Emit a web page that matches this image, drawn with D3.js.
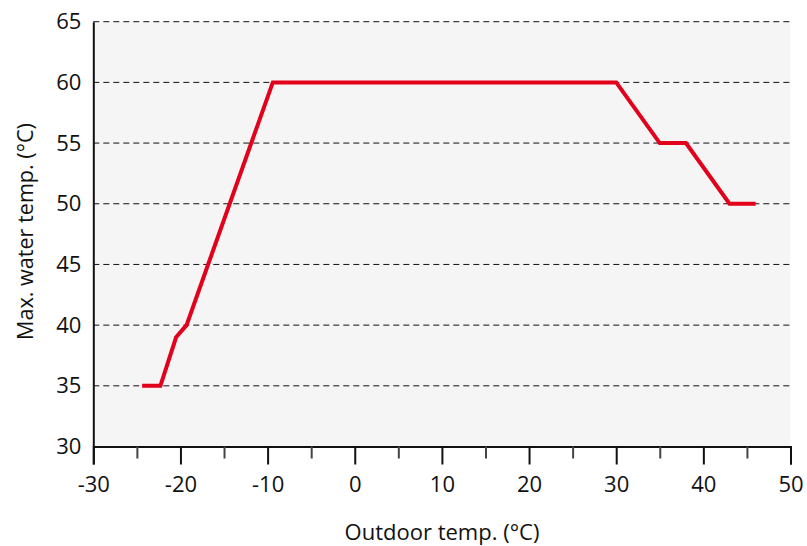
<!DOCTYPE html>
<html><head><meta charset="utf-8">
<script src="https://cdn.jsdelivr.net/npm/d3@7"></script>
<style>body{margin:0;background:#fff;} text{font-family:"Open Sans",sans-serif;fill:#111;}</style>
</head><body>
<svg id="c" width="807" height="546"></svg>
<script>
const outdoorTemp = [-24.4, -22.3, -20.5, -19.3, -9.4, 30, 35, 38, 43, 46];
const maxWaterTemp = [35, 35, 39, 40, 60, 60, 55, 55, 50, 50];
const xTicks = [-30, -20, -10, 0, 10, 20, 30, 40, 50];
const xMinorTicks = [-25, -15, -5, 5, 15, 25, 35, 45];
const yTicks = [30, 35, 40, 45, 50, 55, 60, 65];

const svg = d3.select("#c");
const x = d3.scaleLinear().domain([-30, 50]).range([93.3, 790.5]);
const y = d3.scaleLinear().domain([30, 65]).range([446.5, 21.7]);

svg.append("rect").attr("x", x(-30)).attr("y", y(65)).attr("width", x(50) - x(-30)).attr("height", y(30) - y(65)).attr("fill", "#f5f5f5");

// grid lines
svg.append("g").selectAll("line").data(yTicks.filter(d => d > 30)).join("line")
  .attr("x1", x(-30)).attr("x2", x(50)).attr("y1", d => y(d)).attr("y2", d => y(d))
  .attr("stroke", "#111").attr("stroke-width", 1).attr("stroke-dasharray", "6,4");

// x axis
const gx = svg.append("g").attr("transform", `translate(0,${y(30)})`)
  .call(d3.axisBottom(x).tickValues(xTicks).tickSize(18).tickPadding(12).tickFormat(d => String(d)));
gx.select(".domain").attr("stroke", "#111").attr("stroke-width", 2);
gx.selectAll(".tick line").attr("stroke", "#111").attr("stroke-width", 2);
gx.selectAll(".tick text").style("font-size", "22px").attr("fill", "#111");
svg.append("g").attr("transform", `translate(0,${y(30)})`)
  .call(d3.axisBottom(x).tickValues(xMinorTicks).tickSize(12).tickFormat(""))
  .call(g => g.select(".domain").remove())
  .selectAll(".tick line").attr("stroke", "#444").attr("stroke-width", 2);

// y axis
const gy = svg.append("g").attr("transform", `translate(${x(-30)},0)`)
  .call(d3.axisLeft(y).tickValues(yTicks).tickSize(0).tickPadding(12).tickFormat(d => String(d)));
gy.select(".domain").attr("stroke", "#111").attr("stroke-width", 2);
gy.selectAll(".tick text").style("font-size", "22px").attr("fill", "#111");

// line
const pts = outdoorTemp.map((d, i) => [d, maxWaterTemp[i]]);
svg.append("path").datum(pts)
  .attr("d", d3.line().x(d => x(d[0])).y(d => y(d[1])))
  .attr("fill", "none").attr("stroke", "#e2001a").attr("stroke-width", 4).attr("stroke-linejoin", "miter");

// labels
svg.append("text").attr("x", 442).attr("y", 540).attr("text-anchor", "middle").style("font-size", "22px").text("Outdoor temp. (°C)");
svg.append("text").attr("transform", "translate(33,231.5) rotate(-90)").attr("text-anchor", "middle").style("font-size", "21.6px").text("Max. water temp. (°C)");
</script>
</body></html>
